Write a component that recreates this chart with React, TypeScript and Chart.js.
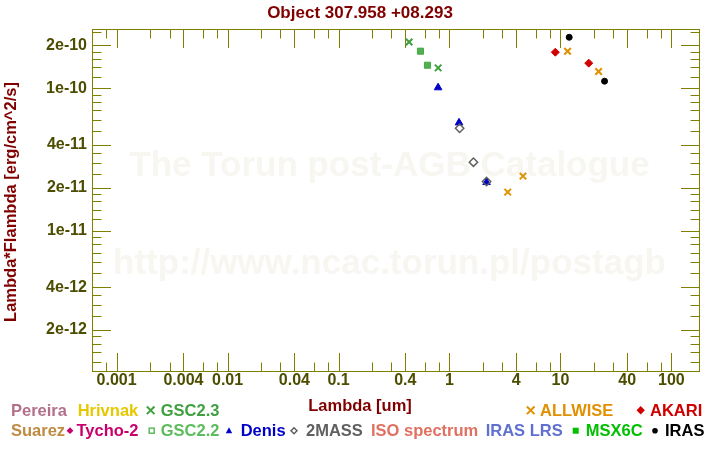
import React, { useEffect, useRef } from 'react';
import { Chart, registerables } from 'chart.js';

Chart.register(...registerables);

const chartTitle = 'Object 307.958 +08.293';
const xAxisTitle = 'Lambda [um]';
const yAxisTitle = 'Lambda*Flambda [erg/cm^2/s]';
const watermarkLine1 = 'The Torun post-AGB Catalogue';
const watermarkLine2 = 'http://www.ncac.torun.pl/postagb';

const xMin = 6.04e-4;
const xMax = 177.5;
const yMin = 1.03e-12;
const yMax = 2.606e-10;

const xMajorTicks = [0.001, 0.004, 0.01, 0.04, 0.1, 0.4, 1, 4, 10, 40, 100];
const xTickLabels = ['0.001', '0.004', '0.01', '0.04', '0.1', '0.4', '1', '4', '10', '40', '100'];
const xMinorTicks = [
  0.0008, 0.002, 0.003, 0.006, 0.008, 0.02, 0.03, 0.06, 0.08, 0.2, 0.3, 0.6, 0.8,
  2, 3, 6, 8, 20, 30, 60, 80,
];
const yMajorTicks = [2e-10, 1e-10, 4e-11, 2e-11, 1e-11, 4e-12, 2e-12];
const yTickLabels = ['2e-10', '1e-10', '4e-11', '2e-11', '1e-11', '4e-12', '2e-12'];
const yMinorTicks = [
  1.2e-12, 1.4e-12, 1.6e-12, 1.8e-12, 2.5e-12, 3e-12, 3.5e-12, 5e-12, 6e-12, 7e-12, 8e-12, 9e-12,
  1.2e-11, 1.4e-11, 1.6e-11, 1.8e-11, 2.5e-11, 3e-11, 3.5e-11, 5e-11, 6e-11, 7e-11, 8e-11, 9e-11,
  1.2e-10, 1.4e-10, 1.6e-10, 1.8e-10, 2.5e-10,
];

// Photometry (wavelength in um, lambda*F_lambda in erg/cm^2/s)
const gsc23Lambda = [0.433, 0.791];
const gsc23Flux = [2.11e-10, 1.39e-10];
const gsc22Lambda = [0.548, 0.634];
const gsc22Flux = [1.82e-10, 1.45e-10];
const denisLambda = [0.79, 1.22, 2.16];
const denisFlux = [1.01e-10, 5.72e-11, 2.18e-11];
const twoMassLambda = [1.235, 1.645, 2.16];
const twoMassFlux = [5.23e-11, 3.02e-11, 2.21e-11];
const allwiseLambda = [3.35, 4.6, 11.6, 22.1];
const allwiseFlux = [1.86e-11, 2.41e-11, 1.82e-10, 1.31e-10];
const akariLambda = [9, 18];
const akariFlux = [1.79e-10, 1.5e-10];
const irasLambda = [12, 25];
const irasFlux = [2.28e-10, 1.12e-10];

const COLORS = {
  title: '#800000',
  frame: '#808000',
  tick: '#4d4d00',
  pereira: '#b4708a',
  hrivnak: '#e6c800',
  gsc23: '#40a040',
  suarez: '#c08a40',
  tycho: '#c8006e',
  gsc22: '#5cbc5c',
  denis: '#0000c8',
  twoMass: '#606060',
  iso: '#e07060',
  irasLrs: '#6070d0',
  msx: '#00c000',
  iras: '#000000',
  allwise: '#e09000',
  akari: '#d00000',
  watermark: '#f8f6f1',
};

const FONT = '"Liberation Sans", Arial, sans-serif';

type Sym = 'cross' | 'diamond' | 'diamondHollow' | 'square' | 'squareHollow' | 'triangle' | 'circle' | null;

// legend layout: [label, color, symbol, symbolX, textX, row]
const legendItems: [string, string, Sym, number, number, number][] = [
  ['Pereira', COLORS.pereira, null, 0, 11, 0],
  ['Hrivnak', COLORS.hrivnak, null, 0, 77.7, 0],
  ['GSC2.3', COLORS.gsc23, 'cross', 150.7, 160.7, 0],
  ['ALLWISE', COLORS.allwise, 'cross', 530.7, 540, 0],
  ['AKARI', COLORS.akari, 'diamond', 640.7, 650, 0],
  ['Suarez', COLORS.suarez, null, 0, 11, 1],
  ['Tycho-2', COLORS.tycho, 'diamond', 70, 76.5, 1],
  ['GSC2.2', COLORS.gsc22, 'squareHollow', 151.7, 160.7, 1],
  ['Denis', COLORS.denis, 'triangle', 229, 240.7, 1],
  ['2MASS', COLORS.twoMass, 'diamondHollow', 294, 306, 1],
  ['ISO spectrum', COLORS.iso, null, 0, 371, 1],
  ['IRAS LRS', COLORS.irasLrs, null, 0, 485.7, 1],
  ['MSX6C', COLORS.msx, 'square', 575.7, 585.7, 1],
  ['IRAS', COLORS.iras, 'circle', 655, 665, 1],
];

function drawSymbol(ctx: CanvasRenderingContext2D, sym: Sym, x: number, y: number, color: string, big: boolean) {
  ctx.save();
  ctx.fillStyle = color;
  ctx.strokeStyle = color;
  ctx.lineWidth = 1.5;
  if (sym === 'cross') {
    const h = big ? 3.8 : 3.2;
    ctx.lineWidth = 2;
    ctx.beginPath();
    ctx.moveTo(x - h, y - h);
    ctx.lineTo(x + h, y + h);
    ctx.moveTo(x - h, y + h);
    ctx.lineTo(x + h, y - h);
    ctx.stroke();
  } else if (sym === 'diamond' || sym === 'diamondHollow') {
    const r = sym === 'diamond' ? (big ? 4.2 : 3.4) : 3;
    ctx.beginPath();
    ctx.moveTo(x, y - r);
    ctx.lineTo(x + r, y);
    ctx.lineTo(x, y + r);
    ctx.lineTo(x - r, y);
    ctx.closePath();
    if (sym === 'diamond') ctx.fill();
    else ctx.stroke();
  } else if (sym === 'square') {
    ctx.fillRect(x - 3, y - 3, 6, 6);
  } else if (sym === 'squareHollow') {
    ctx.strokeRect(x - 2.5, y - 2.5, 5, 5);
  } else if (sym === 'triangle') {
    ctx.beginPath();
    ctx.moveTo(x, y - 3.5);
    ctx.lineTo(x + 3.2, y + 2.5);
    ctx.lineTo(x - 3.2, y + 2.5);
    ctx.closePath();
    ctx.fill();
  } else if (sym === 'circle') {
    ctx.beginPath();
    ctx.arc(x, y, 2.8, 0, Math.PI * 2);
    ctx.fill();
  }
  ctx.restore();
}

const decorPlugin = {
  id: 'decor',
  beforeDatasetsDraw(chart: any) {
    const { ctx, chartArea: a, scales } = chart;
    ctx.save();
    // watermark
    ctx.fillStyle = COLORS.watermark;
    ctx.font = `bold 35px ${FONT}`;
    ctx.textAlign = 'center';
    ctx.textBaseline = 'alphabetic';
    const cx = (a.left + a.right) / 2 - 6;
    ctx.fillText(watermarkLine1, cx, 176);
    ctx.fillText(watermarkLine2, cx, 274);

    // frame
    const L = Math.round(a.left) + 0.5;
    const R = Math.round(a.right) + 0.5;
    const T = Math.round(a.top) + 0.5;
    const B = Math.round(a.bottom) + 0.5;
    ctx.strokeStyle = COLORS.frame;
    ctx.lineWidth = 1;
    ctx.strokeRect(L, T, R - L, B - T);

    const xs = scales.x;
    const ys = scales.y;
    ctx.beginPath();
    const xTick = (v: number, len: number) => {
      const p = Math.round(xs.getPixelForValue(v)) + 0.5;
      if (p <= L || p >= R) return;
      ctx.moveTo(p, T);
      ctx.lineTo(p, T + len);
      ctx.moveTo(p, B);
      ctx.lineTo(p, B - len);
    };
    const yTick = (v: number, len: number) => {
      const p = Math.round(ys.getPixelForValue(v)) + 0.5;
      if (p <= T || p >= B) return;
      ctx.moveTo(L, p);
      ctx.lineTo(L + len, p);
      ctx.moveTo(R, p);
      ctx.lineTo(R - len, p);
    };
    xMajorTicks.forEach((v) => xTick(v, 18.5));
    xMinorTicks.forEach((v) => xTick(v, 9));
    yMajorTicks.forEach((v) => yTick(v, 18.5));
    yMinorTicks.forEach((v) => yTick(v, 9));
    ctx.stroke();
    ctx.restore();
  },
  afterDraw(chart: any) {
    const { ctx } = chart;
    ctx.save();
    // title
    ctx.fillStyle = COLORS.title;
    ctx.font = `bold 17px ${FONT}`;
    ctx.textAlign = 'center';
    ctx.textBaseline = 'alphabetic';
    ctx.fillText(chartTitle, 360, 18);
    // axis titles
    ctx.font = `bold 16.5px ${FONT}`;
    ctx.fillText(xAxisTitle, 360, 411);
    ctx.save();
    ctx.translate(15.5, 202);
    ctx.rotate(-Math.PI / 2);
    ctx.fillText(yAxisTitle, 0, 0);
    ctx.restore();

    // legend
    ctx.textAlign = 'left';
    legendItems.forEach(([label, color, sym, sx, tx, row]) => {
      const base = row === 0 ? 415.7 : 435.7;
      const cy = row === 0 ? 410.3 : 430.7;
      if (sym) drawSymbol(ctx, sym, sx, cy, color, row === 0);
      ctx.fillStyle = color;
      ctx.fillText(label, tx, base);
    });
    ctx.restore();
  },
};

function pts(xs: number[], ys: number[]) {
  return xs.map((x, i) => ({ x, y: ys[i] }));
}

export default function App() {
  const canvasRef = useRef<HTMLCanvasElement | null>(null);

  useEffect(() => {
    if (!canvasRef.current) return;
    const chart = new Chart(canvasRef.current, {
      type: 'scatter',
      data: {
        datasets: [
          {
            label: 'GSC2.3',
            data: pts(gsc23Lambda, gsc23Flux),
            pointStyle: 'crossRot',
            pointRadius: 4.6,
            borderWidth: 2,
            borderColor: COLORS.gsc23,
            backgroundColor: COLORS.gsc23,
          },
          {
            label: 'GSC2.2',
            data: pts(gsc22Lambda, gsc22Flux),
            pointStyle: 'rect',
            pointRadius: 4.3,
            borderWidth: 1,
            borderColor: '#48a848',
            backgroundColor: '#50b050',
          },
          {
            label: '2MASS',
            data: pts(twoMassLambda, twoMassFlux),
            pointStyle: 'rectRot',
            pointRadius: 4.2,
            borderWidth: 1.5,
            borderColor: COLORS.twoMass,
            backgroundColor: 'rgba(0,0,0,0)',
          },
          {
            label: 'Denis',
            data: pts(denisLambda, denisFlux),
            pointStyle: 'triangle',
            pointRadius: 4.4,
            borderWidth: 1,
            borderColor: COLORS.denis,
            backgroundColor: COLORS.denis,
          },
          {
            label: 'ALLWISE',
            data: pts(allwiseLambda, allwiseFlux),
            pointStyle: 'crossRot',
            pointRadius: 4.6,
            borderWidth: 2,
            borderColor: COLORS.allwise,
            backgroundColor: COLORS.allwise,
          },
          {
            label: 'AKARI',
            data: pts(akariLambda, akariFlux),
            pointStyle: 'rectRot',
            pointRadius: 4,
            borderWidth: 1,
            borderColor: COLORS.akari,
            backgroundColor: COLORS.akari,
          },
          {
            label: 'IRAS',
            data: pts(irasLambda, irasFlux),
            pointStyle: 'circle',
            pointRadius: 3,
            borderWidth: 1,
            borderColor: COLORS.iras,
            backgroundColor: COLORS.iras,
          },
        ],
      },
      options: {
        responsive: false,
        animation: false,
        events: [],
        layout: { padding: { left: 0, top: 29, right: 21, bottom: 0 } },
        plugins: {
          legend: { display: false },
          title: { display: false },
          tooltip: { enabled: false },
        },
        scales: {
          x: {
            type: 'logarithmic',
            min: xMin,
            max: xMax,
            grid: { display: false, drawTicks: false },
            border: { display: false },
            afterBuildTicks: (scale: any) => {
              scale.ticks = xMajorTicks.map((v) => ({ value: v }));
            },
            afterFit: (scale: any) => {
              scale.height = 79;
            },
            ticks: {
              autoSkip: false,
              maxRotation: 0,
              padding: 0,
              color: COLORS.tick,
              font: { family: FONT, size: 16, weight: 'bold' },
              callback: (v: any) => {
                const i = xMajorTicks.findIndex((t) => Math.abs(t - v) / t < 1e-6);
                return i >= 0 ? xTickLabels[i] : '';
              },
            },
          },
          y: {
            type: 'logarithmic',
            min: yMin,
            max: yMax,
            grid: { display: false, drawTicks: false },
            border: { display: false },
            afterBuildTicks: (scale: any) => {
              scale.ticks = yMajorTicks.map((v) => ({ value: v }));
            },
            afterFit: (scale: any) => {
              scale.width = 92;
            },
            ticks: {
              autoSkip: false,
              padding: 5,
              color: COLORS.tick,
              font: { family: FONT, size: 16, weight: 'bold' },
              callback: (v: any) => {
                const i = yMajorTicks.findIndex((t) => Math.abs(t - v) / t < 1e-6);
                return i >= 0 ? yTickLabels[i] : '';
              },
            },
          },
        },
      },
      plugins: [decorPlugin],
    } as any);
    return () => chart.destroy();
  }, []);

  return (
    <div style={{ position: 'fixed', left: 0, top: 0, width: 720, height: 450, background: '#ffffff' }}>
      <canvas ref={canvasRef} width={720} height={450} style={{ display: 'block' }} />
    </div>
  );
}
